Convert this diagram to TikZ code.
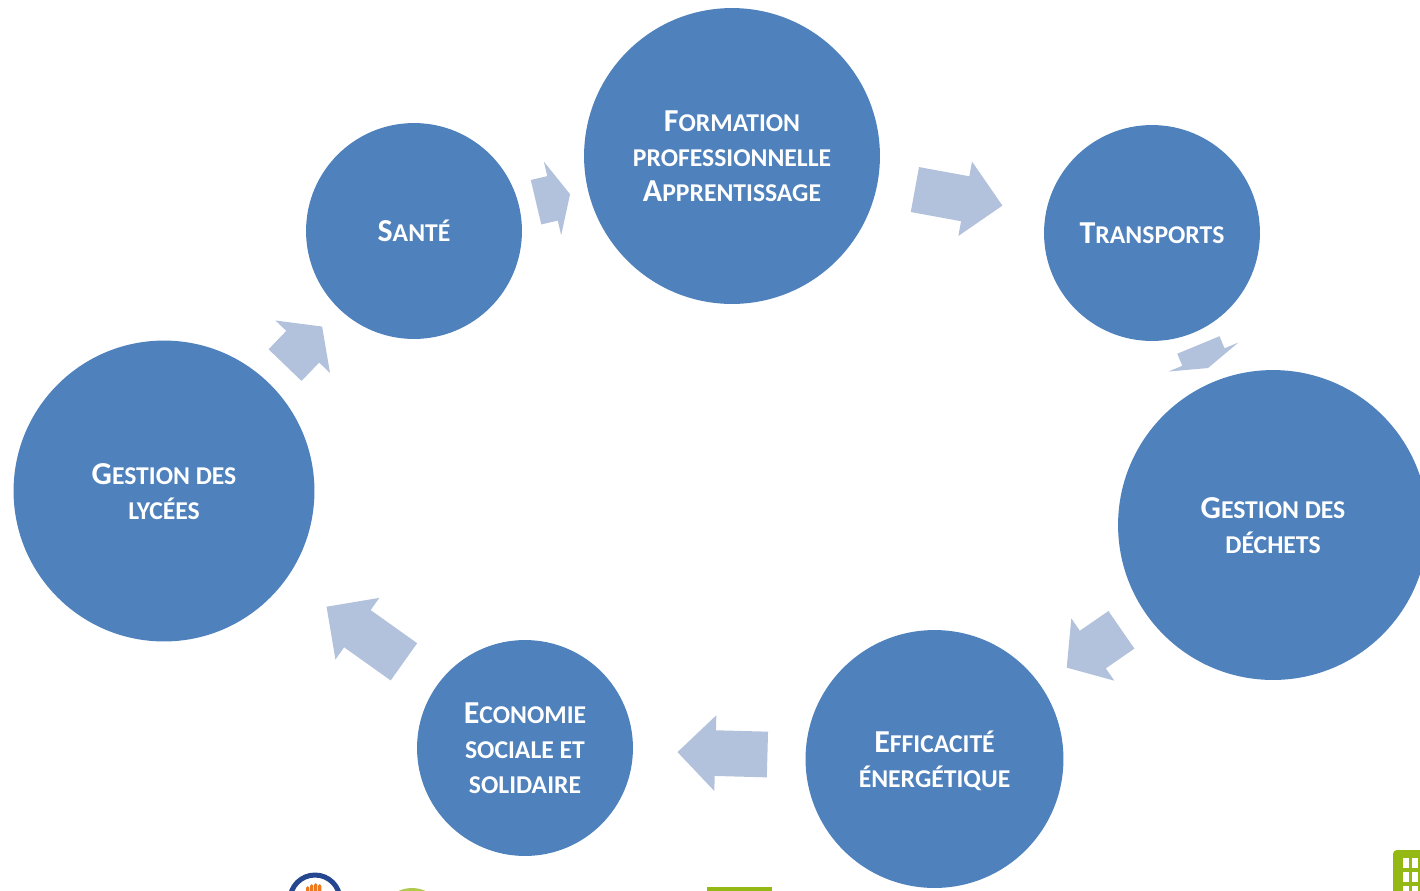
\documentclass[tikz,border=0pt]{standalone}
\usepackage{fontspec}
\setmainfont{Carlito}
\usetikzlibrary{shapes.arrows}

\definecolor{discblue}{HTML}{4F81BD}
\definecolor{flowblue}{HTML}{B2C1DC}
\definecolor{logogreen}{HTML}{94B814}
\definecolor{logonavy}{HTML}{25478F}
\definecolor{logoorange}{HTML}{EE7A1D}

% large first letter of a line, with a strut so that all labels sit alike
\newcommand{\capstrut}{\rule[-3pt]{0pt}{18pt}}
\newcommand{\capinit}[1]{\capstrut{\fontsize{18.2}{19.9}\selectfont #1}}

\tikzset{
  disc/.style={circle,fill=discblue,text=white,inner sep=0pt,align=center,
    minimum size=#1*0.04cm,font=\fontsize{14.6}{19.9}\bfseries\selectfont},
  flowarrow/.style={single arrow,fill=flowblue,inner xsep=0pt,inner ysep=0.45cm,pos=0.415,sloped,allow upside down,
    single arrow head extend=0.3cm}
}

\begin{document}
\begin{tikzpicture}[x=0.02cm,y=-0.02cm]
  \useasboundingbox (0,0) rectangle (1420,890);
  \clip (0,0) rectangle (1420,890);

  \node[disc=108]   (sante)      at (414,231)   {\capinit{S}ANTÉ\capstrut};
  \node[disc=148]   (formation)  at (732,156)   {\capinit{F}ORMATION\\PROFESSIONNELLE\\\capinit{A}PPRENTISSAGE\capstrut};
  \node[disc=108]   (transports) at (1152,233)  {\capinit{T}RANSPORTS\capstrut};
  \node[disc=155]   (dechets)    at (1273,525)  {\capinit{G}ESTION DES\\DÉCHETS\capstrut};
  \node[disc=129]   (efficacite) at (934.5,759) {\capinit{E}FFICACITÉ\\ÉNERGÉTIQUE\capstrut};
  \node[disc=108]   (economie)   at (525,748)   {\capinit{E}CONOMIE\\SOCIALE ET\\SOLIDAIRE\capstrut};
  \node[disc=150.5] (lycees)     at (164,491)   {\capinit{G}ESTION DES\\LYCÉES\capstrut};

  \foreach \from/\to/\len/\tip in {sante/formation/0.7/129,formation/transports/1.78/90,
      transports/dechets/0.5/145,dechets/efficacite/1.33/100,efficacite/economie/1.8/90,
      economie/lycees/1.9/90,lycees/sante/1.07/107}
    \path (\from) -- node[flowarrow,minimum height=\len cm,single arrow tip angle=\tip] (\from-arrow) {} (\to);

  % logos cut off by the lower edge
  \draw[logonavy,line width=0.1cm] (315,900) circle (25);
  \foreach \x/\y in {306/886,310/884,314/883,318/884}
    \fill[logoorange,rounded corners=1pt] (\x,\y) rectangle +(3.4,10);
  \fill[logogreen!75] (412,905) ellipse (24 and 17);
  \fill[logogreen] (707,887) rectangle (772,900);
  \fill[logogreen,rounded corners=0.08cm] (1393,850) rectangle (1440,900);
  \foreach \y in {858,872,886}
    \foreach \x in {1403,1412}
      \fill[white] (\x,\y) rectangle +(6,10);
\end{tikzpicture}
\end{document}
